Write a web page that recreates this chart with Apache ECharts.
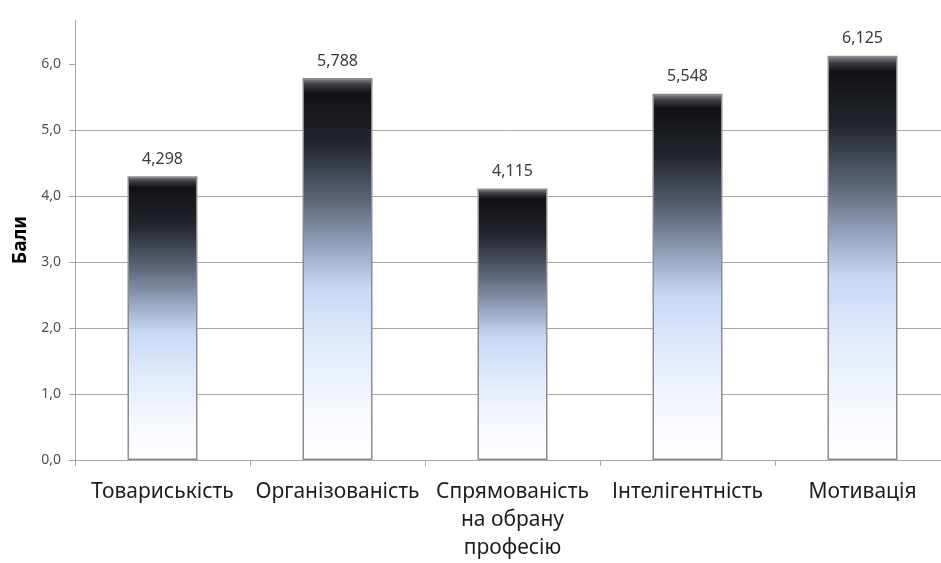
<!DOCTYPE html>
<html>
<head>
<meta charset="utf-8">
<script src="https://cdn.jsdelivr.net/npm/echarts@6/dist/echarts.min.js"></script>
<style>
  html, body { margin: 0; padding: 0; background: #ffffff; }
  #chart { width: 941px; height: 563px; }
</style>
</head>
<body>
<div id="chart"></div>
<script>
// Categories (personal qualities) and their mean scores
const categories = ['Товариськість', 'Організованість', 'Спрямованість\nна обрану\nпрофесію', 'Інтелігентність', 'Мотивація'];
const scores = [4.298, 5.788, 4.115, 5.548, 6.125];
const yTicks = [0, 1, 2, 3, 4, 5, 6];
const yAxisTitle = 'Бали';

const fmtComma = (v, digits) => v.toFixed(digits).replace('.', ',');

const barFill = {
  type: 'linear', x: 0, y: 0, x2: 0, y2: 1,
  colorStops: [
    { offset: 0.000, color: '#8a8d93' },
    { offset: 0.018, color: '#3a3c41' },
    { offset: 0.040, color: '#111216' },
    { offset: 0.170, color: '#22252c' },
    { offset: 0.320, color: '#5c6577' },
    { offset: 0.440, color: '#94a2be' },
    { offset: 0.550, color: '#c7d8f6' },
    { offset: 0.710, color: '#e2ebfb' },
    { offset: 0.880, color: '#f7f9fe' },
    { offset: 1.000, color: '#ffffff' }
  ]
};

const chart = echarts.init(document.getElementById('chart'), null, { renderer: 'canvas' });
chart.setOption({
  animation: false,
  backgroundColor: '#ffffff',
  grid: { left: 75, top: 20, width: 875, height: 440, containLabel: false, outerBoundsMode: 'none' },
  xAxis: {
    type: 'category',
    data: categories,
    boundaryGap: true,
    axisLine: { show: true, lineStyle: { color: '#a6a6a6', width: 1 } },
    axisTick: { show: true, length: 6, alignWithLabel: false, lineStyle: { color: '#a6a6a6' } },
    axisLabel: {
      interval: 0,
      margin: 18,
      fontFamily: 'Noto Sans',
      fontSize: 21,
      lineHeight: 28,
      color: '#1e1e1e'
    },
    splitLine: { show: false }
  },
  yAxis: {
    type: 'value',
    min: 0,
    max: 6.667,
    interval: 1,
    name: yAxisTitle,
    nameLocation: 'middle',
    nameRotate: 90,
    nameGap: 44,
    nameTextStyle: { fontFamily: 'Noto Sans', fontSize: 19, fontWeight: 'bold', color: '#000000' },
    axisLine: { show: true, lineStyle: { color: '#a6a6a6', width: 1 } },
    axisTick: { show: true, length: 6, customValues: yTicks, lineStyle: { color: '#a6a6a6' } },
    axisLabel: {
      customValues: yTicks,
      margin: 14,
      fontFamily: 'Noto Sans',
      fontSize: 14,
      color: '#505050',
      formatter: (v) => fmtComma(v, 1)
    },
    splitLine: { show: true, showMaxLine: false, lineStyle: { color: '#a6a6a6', width: 1 } }
  },
  series: [{
    type: 'bar',
    data: scores,
    barWidth: '40%',
    itemStyle: { color: barFill, borderColor: '#8e8e8e', borderWidth: 1.5 },
    label: {
      show: true,
      position: 'top',
      distance: 9,
      fontFamily: 'Noto Sans',
      fontSize: 16,
      color: '#3a3a3a',
      formatter: (p) => fmtComma(p.value, 3)
    }
  }]
});
</script>
</body>
</html>
